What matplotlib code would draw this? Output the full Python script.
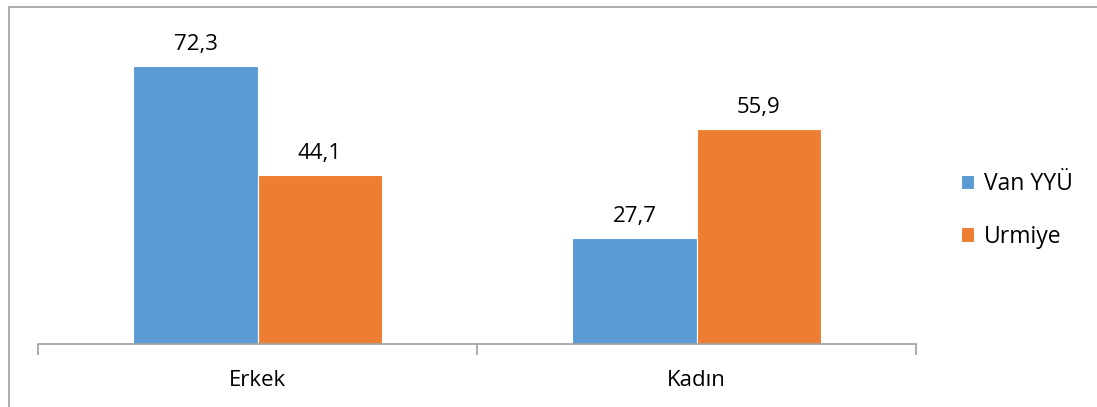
import numpy as np
import matplotlib.pyplot as plt
from matplotlib.patches import Rectangle

categories = ['Erkek', 'Kadın']
series = ['Van YYÜ', 'Urmiye']
van = [72.3, 27.7]
urmiye = [44.1, 55.9]
colors = ['#5B9BD5', '#ED7D31']

W, H = 1097, 407
fig = plt.figure(figsize=(W / 100, H / 100), dpi=100)
plt.rcParams['font.family'] = ['Open Sans', 'DejaVu Sans']

# dış çerçeve (sadece üst ve sol görünüyor)
fig.patches.append(Rectangle((9 / W, -0.1), 1.2, (H - 7) / H + 0.1,
                             transform=fig.transFigure, fill=False,
                             edgecolor='#A0A0A0', linewidth=1.2))

ax = fig.add_axes([38 / W, (H - 344) / H, (916 - 38) / W, (344 - 10) / H])
x = np.arange(len(categories))
bw = 0.2825
b1 = ax.bar(x - bw / 2, van, bw, color=colors[0], edgecolor='white', linewidth=0.8, label=series[0])
b2 = ax.bar(x + bw / 2, urmiye, bw, color=colors[1], edgecolor='white', linewidth=0.8, label=series[1])

for bars in (b1, b2):
    for b in bars:
        v = b.get_height()
        ax.annotate(f'{v:.1f}'.replace('.', ','), (b.get_x() + b.get_width() / 2, v),
                    xytext=(0, 8), textcoords='offset points', ha='center', va='bottom',
                    fontsize=16)

ax.set_xlim(-0.5, 1.5)
ax.set_ylim(0, 87)
ax.set_yticks([])
for s in ['top', 'right', 'left']:
    ax.spines[s].set_visible(False)
ax.spines['bottom'].set_color('#A0A0A0')
ax.spines['bottom'].set_linewidth(1.2)
ax.set_xticks([-0.5, 0.5, 1.5])
ax.set_xticklabels([])
ax.tick_params(axis='x', length=8, color='#A0A0A0', width=1.2)
ax.set_xticks(x, minor=True)
ax.set_xticklabels(categories, minor=True, fontsize=16)
ax.tick_params(axis='x', which='minor', length=0, pad=19)

ax.legend(loc='center left', bbox_to_anchor=(940 / W, 0.483), bbox_transform=fig.transFigure,
          frameon=False, fontsize=16.5, handlelength=0.6, handleheight=0.6,
          labelspacing=1.25, handletextpad=0.4)

fig.savefig('out.png', dpi=100)
